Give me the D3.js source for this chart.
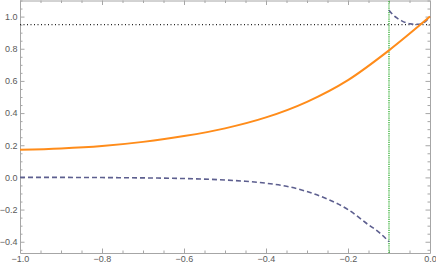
<!DOCTYPE html>
<html>
<head>
	<meta charset="utf-8">
	<title>Plot</title>
	<script src="https://d3js.org/d3.v7.min.js"></script>
	<style>
		body { margin: 0; background: #fff; }
		.frame path, .frame line { stroke: #a6a6a6; }
		.frame text { fill: #5a5a5a; font-family: "Liberation Sans", Arial, sans-serif; font-size: 9px; }
	</style>
</head>
<body>
<div id="chart"></div>
<script type="text/javascript">

	// curve data
	var orangeX = [-1, -0.9, -0.8, -0.7, -0.6, -0.5, -0.4, -0.3, -0.2, -0.1, 0];
	var orangeY = [0.172, 0.180, 0.195, 0.221, 0.257, 0.305, 0.373, 0.470, 0.605, 0.790, 1.0];

	var lowX = [-1, -0.9, -0.8, -0.7, -0.6, -0.5, -0.45, -0.4, -0.35, -0.3, -0.25, -0.2, -0.15, -0.125, -0.1];
	var lowY = [0, 0, -0.001, -0.003, -0.007, -0.016, -0.024, -0.036, -0.055, -0.088, -0.135, -0.20, -0.295, -0.34, -0.40];

	var highX = [-0.1, -0.09, -0.08, -0.07, -0.06, -0.05, -0.04, -0.03, -0.02, -0.01, 0];
	var highY = [1.04, 1.01, 0.99, 0.975, 0.963, 0.956, 0.952, 0.952, 0.957, 0.972, 1.0];

	var hLine = 0.95;
	var vLine = -0.1;

	var xTicks = [-1, -0.8, -0.6, -0.4, -0.2, 0];
	var yTicks = [-0.4, -0.2, 0, 0.2, 0.4, 0.6, 0.8, 1.0];

	var W = 436, H = 267;
	var padL = 20, padR = 430, padT = 0.5, padB = 253;

	var svg = d3.select("#chart").append("svg").attr("width", W).attr("height", H);

	var x = d3.scaleLinear().domain([-1, 0]).range([padL, padR]);
	var y = d3.scaleLinear().domain([-0.47, 1.10]).range([padB, padT]);

	var xMinor = d3.range(-1, 0.001, 0.05).filter(function(v){ return Math.abs(Math.round(v*5) - v*5) > 1e-6; });
	var yMinor = d3.range(-0.45, 1.101, 0.05).filter(function(v){ return Math.abs(Math.round(v*5) - v*5) > 1e-6; });

	var fmt = function(d){ return d3.format(".1f")(d).replace("-", "\u2212"); };
	var blank = function(){ return ""; };

	// frame with ticks on all sides
	function frame(axis, tr, ticks, size, labels) {
		return svg.append("g").attr("class", "frame").attr("transform", tr)
			.call(axis.tickValues(ticks).tickSizeInner(size).tickSizeOuter(0).tickPadding(2.5)
				.tickFormat(labels ? fmt : blank));
	}

	frame(d3.axisBottom(x), "translate(0," + padB + ")", xTicks, -4.5, true);
	frame(d3.axisBottom(x), "translate(0," + padB + ")", xMinor, -2.5, false).select(".domain").remove();
	frame(d3.axisTop(x), "translate(0," + padT + ")", xTicks, -4.5, false);
	frame(d3.axisTop(x), "translate(0," + padT + ")", xMinor, -2.5, false).select(".domain").remove();
	frame(d3.axisLeft(y), "translate(" + padL + ",0)", yTicks, -4.5, true);
	frame(d3.axisLeft(y), "translate(" + padL + ",0)", yMinor, -2.5, false).select(".domain").remove();
	frame(d3.axisRight(y), "translate(" + padR + ",0)", yTicks, -4.5, false);
	frame(d3.axisRight(y), "translate(" + padR + ",0)", yMinor, -2.5, false).select(".domain").remove();

	var plot = svg.append("g");

	// reference lines
	plot.append("line")
		.attr("x1", x(-1)).attr("x2", x(0))
		.attr("y1", y(hLine)).attr("y2", y(hLine))
		.style("stroke", "#222").style("stroke-width", 1.2).style("stroke-dasharray", "1,2.5");

	plot.append("line")
		.attr("x1", x(vLine)).attr("x2", x(vLine))
		.attr("y1", y(-0.47)).attr("y2", y(1.10))
		.style("stroke", "#3cb33c").style("stroke-width", 1.4).style("stroke-dasharray", "1.2,1");

	var line = d3.line()
		.x(function(d){ return x(d[0]); })
		.y(function(d){ return y(d[1]); })
		.curve(d3.curveMonotoneX);

	var zip = function(a, b){ return a.map(function(v, i){ return [v, b[i]]; }); };

	plot.append("path").datum(zip(lowX, lowY)).attr("d", line)
		.style("fill", "none").style("stroke", "#5d5f8f").style("stroke-width", 1.6).style("stroke-dasharray", "5,3");

	plot.append("path").datum(zip(highX, highY)).attr("d", line)
		.style("fill", "none").style("stroke", "#5d5f8f").style("stroke-width", 1.6).style("stroke-dasharray", "5,3");

	plot.append("path").datum(zip(orangeX, orangeY)).attr("d", line)
		.style("fill", "none").style("stroke", "#ff8c1a").style("stroke-width", 2);

</script>
</body>
</html>
